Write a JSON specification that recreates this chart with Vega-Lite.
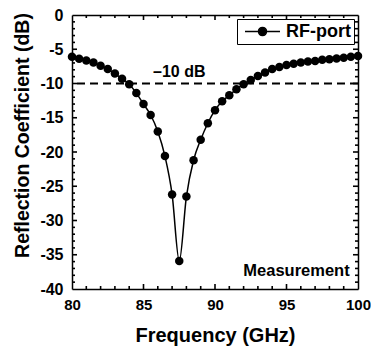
{
  "$schema": "https://vega.github.io/schema/vega-lite/v6.json",
  "width": 286,
  "height": 274,
  "autosize": {"type": "none"},
  "padding": {"left": 72, "top": 15, "right": 13, "bottom": 60},
  "background": "white",
  "config": {
    "font": "Liberation Sans",
    "view": {"stroke": null},
    "axis": {
      "domainColor": "black",
      "domainWidth": 1.5,
      "grid": false,
      "labelFont": "Liberation Sans",
      "labelFontWeight": "bold",
      "labelFontSize": 15,
      "labelColor": "black",
      "titleFont": "Liberation Sans",
      "titleFontWeight": "bold",
      "titleColor": "black"
    }
  },
  "datasets": {
    "s11": [
      {"f": 80.0, "s": -6.1, "series": "RF-port"},
      {"f": 80.5, "s": -6.4, "series": "RF-port"},
      {"f": 81.0, "s": -6.65, "series": "RF-port"},
      {"f": 81.5, "s": -6.95, "series": "RF-port"},
      {"f": 82.0, "s": -7.4, "series": "RF-port"},
      {"f": 82.5, "s": -7.9, "series": "RF-port"},
      {"f": 83.0, "s": -8.55, "series": "RF-port"},
      {"f": 83.5, "s": -9.3, "series": "RF-port"},
      {"f": 84.0, "s": -10.1, "series": "RF-port"},
      {"f": 84.5, "s": -11.4, "series": "RF-port"},
      {"f": 85.0, "s": -13.0, "series": "RF-port"},
      {"f": 85.5, "s": -14.6, "series": "RF-port"},
      {"f": 86.0, "s": -17.0, "series": "RF-port"},
      {"f": 86.5, "s": -20.6, "series": "RF-port"},
      {"f": 87.0, "s": -26.2, "series": "RF-port"},
      {"f": 87.5, "s": -35.9, "series": "RF-port"},
      {"f": 88.0, "s": -26.5, "series": "RF-port"},
      {"f": 88.5, "s": -21.2, "series": "RF-port"},
      {"f": 89.0, "s": -18.2, "series": "RF-port"},
      {"f": 89.5, "s": -15.8, "series": "RF-port"},
      {"f": 90.0, "s": -13.9, "series": "RF-port"},
      {"f": 90.5, "s": -12.6, "series": "RF-port"},
      {"f": 91.0, "s": -11.7, "series": "RF-port"},
      {"f": 91.5, "s": -10.85, "series": "RF-port"},
      {"f": 92.0, "s": -10.1, "series": "RF-port"},
      {"f": 92.5, "s": -9.5, "series": "RF-port"},
      {"f": 93.0, "s": -8.9, "series": "RF-port"},
      {"f": 93.5, "s": -8.4, "series": "RF-port"},
      {"f": 94.0, "s": -7.9, "series": "RF-port"},
      {"f": 94.5, "s": -7.6, "series": "RF-port"},
      {"f": 95.0, "s": -7.3, "series": "RF-port"},
      {"f": 95.5, "s": -7.1, "series": "RF-port"},
      {"f": 96.0, "s": -6.95, "series": "RF-port"},
      {"f": 96.5, "s": -6.8, "series": "RF-port"},
      {"f": 97.0, "s": -6.7, "series": "RF-port"},
      {"f": 97.5, "s": -6.55, "series": "RF-port"},
      {"f": 98.0, "s": -6.45, "series": "RF-port"},
      {"f": 98.5, "s": -6.35, "series": "RF-port"},
      {"f": 99.0, "s": -6.25, "series": "RF-port"},
      {"f": 99.5, "s": -6.1, "series": "RF-port"},
      {"f": 100.0, "s": -6.0, "series": "RF-port"}
    ],
    "ref": [{"s": -10}],
    "note1": [{"f": 87.5, "s": -8.3, "t": "–10 dB"}],
    "note2": [{"f": 95.7, "s": -37.3, "t": "Measurement"}],
    "xt": [{"v": 81}, {"v": 82}, {"v": 83}, {"v": 84}, {"v": 85}, {"v": 86}, {"v": 87}, {"v": 88}, {"v": 89}, {"v": 90}, {"v": 91}, {"v": 92}, {"v": 93}, {"v": 94}, {"v": 95}, {"v": 96}, {"v": 97}, {"v": 98}, {"v": 99}],
    "yt": [{"v": -39}, {"v": -38}, {"v": -37}, {"v": -36}, {"v": -35}, {"v": -34}, {"v": -33}, {"v": -32}, {"v": -31}, {"v": -30}, {"v": -29}, {"v": -28}, {"v": -27}, {"v": -26}, {"v": -25}, {"v": -24}, {"v": -23}, {"v": -22}, {"v": -21}, {"v": -20}, {"v": -19}, {"v": -18}, {"v": -17}, {"v": -16}, {"v": -15}, {"v": -14}, {"v": -13}, {"v": -12}, {"v": -11}, {"v": -10}, {"v": -9}, {"v": -8}, {"v": -7}, {"v": -6}, {"v": -5}, {"v": -4}, {"v": -3}, {"v": -2}, {"v": -1}]
  },
  "layer": [
    {
      "data": {"name": "s11"},
      "mark": {"type": "line", "interpolate": "monotone", "color": "black", "strokeWidth": 1.5},
      "encoding": {
        "x": {
          "field": "f", "type": "quantitative",
          "scale": {"domain": [80, 100], "nice": false, "zero": false},
          "axis": {
            "orient": "bottom",
            "values": [80, 85, 90, 95, 100],
            "format": "d",
            "ticks": false,
            "labelPadding": 8,
            "labelFlush": false,
            "labelOverlap": false,
            "title": "Frequency (GHz)",
            "titleFontSize": 20,
            "titleX": 143,
            "titleY": 52,
            "titleBaseline": "alphabetic",
            "titleAnchor": null
          }
        },
        "y": {
          "field": "s", "type": "quantitative",
          "scale": {"domain": [-40, 0], "nice": false, "zero": false},
          "axis": {
            "orient": "left",
            "values": [-40, -35, -30, -25, -20, -15, -10, -5, 0],
            "labelExpr": "'' + datum.value",
            "ticks": false,
            "labelPadding": 9,
            "labelFontSize": 16,
            "labelFlush": false,
            "labelOverlap": false,
            "title": "Reflection Coefficient (dB)",
            "titleFontSize": 19.5,
            "titleAngle": -90,
            "titleX": -50,
            "titleY": 120,
            "titleAlign": "center",
            "titleBaseline": "middle",
            "titleAnchor": null
          }
        }
      }
    },
    {
      "data": {"name": "s11"},
      "mark": {"type": "point", "filled": true, "size": 72, "opacity": 1, "shape": "circle"},
      "encoding": {
        "x": {"field": "f", "type": "quantitative", "axis": null},
        "y": {"field": "s", "type": "quantitative", "axis": null},
        "color": {
          "field": "series", "type": "nominal",
          "scale": {"range": ["black"]},
          "legend": {
            "orient": "top-right",
            "offset": 4,
            "title": null,
            "strokeColor": "black",
            "fillColor": "white",
            "padding": 3,
            "cornerRadius": 0,
            "labelFont": "Liberation Sans",
            "labelFontSize": 18,
            "labelFontWeight": "bold",
            "labelColor": "black",
            "labelOffset": 14,
            "symbolOffset": 13,
            "symbolType": "M-2,0H2M0.46,0A0.46,0.46,0,1,1,-0.46,0A0.46,0.46,0,1,1,0.46,0Z",
            "symbolSize": 306,
            "symbolStrokeWidth": 1.5,
            "symbolFillColor": "black",
            "symbolStrokeColor": "black",
            "symbolOpacity": 1
          }
        }
      }
    },
    {
      "data": {"name": "ref"},
      "mark": {"type": "rule", "color": "black", "strokeWidth": 2, "strokeDash": [8, 5]},
      "encoding": {
        "y": {"field": "s", "type": "quantitative", "axis": null}
      }
    },
    {
      "data": {"name": "note1"},
      "mark": {"type": "text", "font": "Liberation Sans", "fontWeight": "bold", "fontSize": 16, "align": "center", "baseline": "middle", "color": "black"},
      "encoding": {
        "x": {"field": "f", "type": "quantitative", "axis": null},
        "y": {"field": "s", "type": "quantitative", "axis": null},
        "text": {"field": "t"}
      }
    },
    {
      "data": {"name": "note2"},
      "mark": {"type": "text", "font": "Liberation Sans", "fontWeight": "bold", "fontSize": 16.5, "align": "center", "baseline": "middle", "color": "black"},
      "encoding": {
        "x": {"field": "f", "type": "quantitative", "axis": null},
        "y": {"field": "s", "type": "quantitative", "axis": null},
        "text": {"field": "t"}
      }
    },
    {
      "data": {"name": "xt"},
      "mark": {"type": "tick", "orient": "vertical", "thickness": 1.6, "color": "black", "opacity": 1, "clip": true},
      "encoding": {
        "x": {"field": "v", "type": "quantitative", "axis": null},
        "y": {"datum": -40, "type": "quantitative", "axis": null},
        "size": {"condition": {"test": "datum.v % 5 === 0", "value": 10}, "value": 6}
      }
    },
    {
      "data": {"name": "xt"},
      "mark": {"type": "tick", "orient": "vertical", "thickness": 1.6, "color": "black", "opacity": 1, "clip": true},
      "encoding": {
        "x": {"field": "v", "type": "quantitative", "axis": null},
        "y": {"datum": 0, "type": "quantitative", "axis": null},
        "size": {"condition": {"test": "datum.v % 5 === 0", "value": 10}, "value": 6}
      }
    },
    {
      "data": {"name": "yt"},
      "mark": {"type": "tick", "orient": "horizontal", "thickness": 1.6, "color": "black", "opacity": 1, "clip": true},
      "encoding": {
        "x": {"datum": 80, "type": "quantitative", "axis": null},
        "y": {"field": "v", "type": "quantitative", "axis": null},
        "size": {"condition": {"test": "datum.v % 5 === 0", "value": 10}, "value": 6}
      }
    },
    {
      "data": {"name": "yt"},
      "mark": {"type": "tick", "orient": "horizontal", "thickness": 1.6, "color": "black", "opacity": 1, "clip": true},
      "encoding": {
        "x": {"datum": 100, "type": "quantitative", "axis": null},
        "y": {"field": "v", "type": "quantitative", "axis": null},
        "size": {"condition": {"test": "datum.v % 5 === 0", "value": 10}, "value": 6}
      }
    },
    {
      "data": {"name": "s11"},
      "mark": {"type": "point", "opacity": 0},
      "encoding": {
        "x": {
          "field": "f", "type": "quantitative",
          "axis": {"orient": "top", "values": [80, 100], "labels": false, "ticks": false, "title": null}
        },
        "y": {
          "field": "s", "type": "quantitative",
          "axis": {"orient": "right", "values": [-40, 0], "labels": false, "ticks": false, "title": null}
        }
      }
    }
  ],
  "resolve": {"axis": {"x": "independent", "y": "independent"}}
}
